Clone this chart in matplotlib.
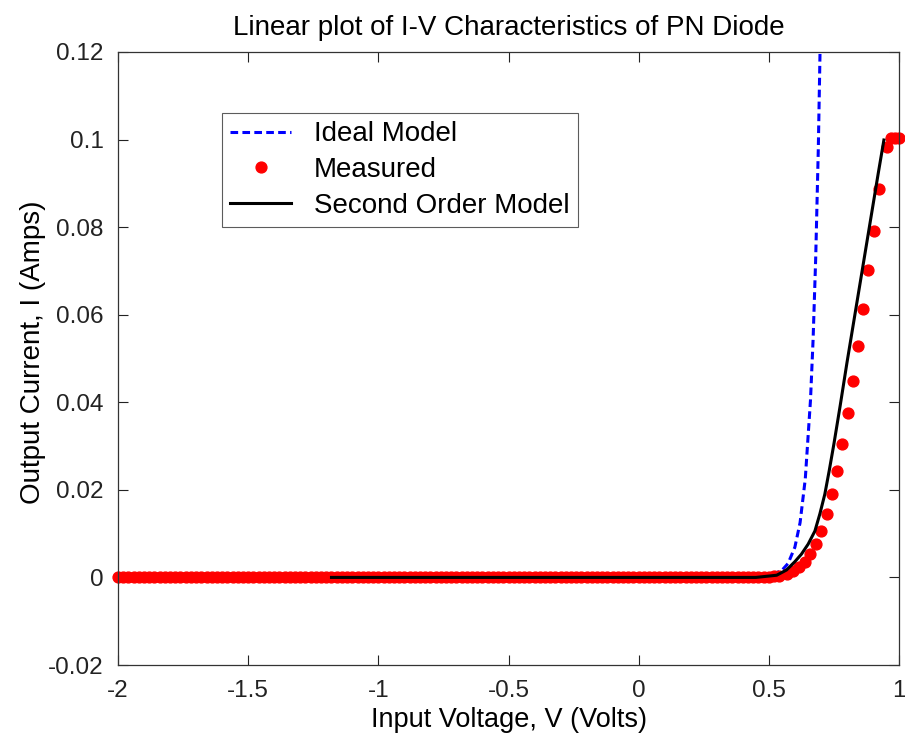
import matplotlib
matplotlib.use("Agg")
import matplotlib.pyplot as plt

plt.rcParams['font.family'] = ['Liberation Sans', 'DejaVu Sans']

# ---------------- data ----------------
measured_v = [
    -2.00, -1.98, -1.96, -1.94, -1.92, -1.90, -1.88, -1.86, -1.84, -1.82,
    -1.80, -1.78, -1.76, -1.74, -1.72, -1.70, -1.68, -1.66, -1.64, -1.62,
    -1.60, -1.58, -1.56, -1.54, -1.52, -1.50, -1.48, -1.46, -1.44, -1.42,
    -1.40, -1.38, -1.36, -1.34, -1.32, -1.30, -1.28, -1.26, -1.24, -1.22,
    -1.20, -1.18, -1.16, -1.14, -1.12, -1.10, -1.08, -1.06, -1.04, -1.02,
    -1.00, -0.98, -0.96, -0.94, -0.92, -0.90, -0.88, -0.86, -0.84, -0.82,
    -0.80, -0.78, -0.76, -0.74, -0.72, -0.70, -0.68, -0.66, -0.64, -0.62,
    -0.60, -0.58, -0.56, -0.54, -0.52, -0.50, -0.48, -0.46, -0.44, -0.42,
    -0.40, -0.38, -0.36, -0.34, -0.32, -0.30, -0.28, -0.26, -0.24, -0.22,
    -0.20, -0.18, -0.16, -0.14, -0.12, -0.10, -0.08, -0.06, -0.04, -0.02,
    0.00, 0.02, 0.04, 0.06, 0.08, 0.10, 0.12, 0.14, 0.16, 0.18,
    0.20, 0.22, 0.24, 0.26, 0.28, 0.30, 0.32, 0.34, 0.36, 0.38,
    0.40, 0.42, 0.44, 0.46, 0.48, 0.50, 0.52, 0.54,
    0.568, 0.593, 0.616, 0.638, 0.660, 0.680, 0.702, 0.722, 0.741, 0.7625,
    0.782, 0.8025, 0.824, 0.841, 0.863, 0.880, 0.905, 0.924, 0.953, 0.968,
    0.984, 1.000,
]
measured_i = [
    0, 0, 0, 0, 0, 0, 0, 0, 0, 0,
    0, 0, 0, 0, 0, 0, 0, 0, 0, 0,
    0, 0, 0, 0, 0, 0, 0, 0, 0, 0,
    0, 0, 0, 0, 0, 0, 0, 0, 0, 0,
    0, 0, 0, 0, 0, 0, 0, 0, 0, 0,
    0, 0, 0, 0, 0, 0, 0, 0, 0, 0,
    0, 0, 0, 0, 0, 0, 0, 0, 0, 0,
    0, 0, 0, 0, 0, 0, 0, 0, 0, 0,
    0, 0, 0, 0, 0, 0, 0, 0, 0, 0,
    0, 0, 0, 0, 0, 0, 0, 0, 0, 0,
    0, 0, 0, 0, 0, 0, 0, 0, 0, 0,
    0, 0, 0, 0, 0, 0, 0, 0, 0, 0,
    0.0, 0.0, 0.0001, 0.0001, 0.0001, 0.0002, 0.0003, 0.0004,
    0.0007, 0.0014, 0.0024, 0.0036, 0.0053, 0.0076, 0.0106, 0.0145, 0.0190, 0.0244,
    0.0305, 0.0375, 0.0449, 0.0529, 0.0613, 0.0701, 0.0792, 0.0887, 0.0984, 0.1003,
    0.1003, 0.1003,
]

ideal_v = [-1.18, 0.40, 0.45, 0.50, 0.55, 0.574, 0.60, 0.62, 0.64, 0.66,
           0.67, 0.68, 0.69, 0.70]
ideal_i = [0.0, 0.0, 0.00008, 0.00037, 0.0016, 0.0032, 0.0069, 0.0125,
           0.0225, 0.0405, 0.0543, 0.0729, 0.0978, 0.1312]

second_v = [-1.18, 0.45, 0.53, 0.568, 0.600, 0.625, 0.651, 0.677, 0.696,
            0.715, 0.732, 0.750, 0.774, 0.800, 0.830, 0.860, 0.890, 0.920,
            0.942]
second_i = [0.0, 0.0, 0.0005, 0.0017, 0.0036, 0.0053, 0.0076, 0.0106, 0.0145,
            0.0190, 0.0244, 0.0305, 0.0392, 0.0490, 0.0598, 0.0706, 0.0814,
            0.0922, 0.0999]

xticks = [-2, -1.5, -1, -0.5, 0, 0.5, 1]
xticklabels = ['-2', '-1.5', '-1', '-0.5', '0', '0.5', '1']
yticks = [-0.02, 0, 0.02, 0.04, 0.06, 0.08, 0.10, 0.12]
yticklabels = ['-0.02', '0', '0.02', '0.04', '0.06', '0.08', '0.1', '0.12']

# ---------------- figure ----------------
W, H = 905, 740
L, R, T, B = 118, 899, 52, 665
fig = plt.figure(figsize=(W/100, H/100), dpi=100)
ax = fig.add_axes([L/W, (H-B)/H, (R-L)/W, (B-T)/H])

ax.plot(ideal_v, ideal_i, color='#0000ff', ls=(0, (2.5, 1.4)), lw=2.2,
        label='Ideal Model')
ax.plot(measured_v, measured_i, ls='none', marker='o', ms=7.8,
        color='#ff0000', mec='#ff0000', label='Measured', clip_on=False)
ax.plot(second_v, second_i, color='black', lw=2.2, label='Second Order Model')

ax.set_xlim(-2, 1)
ax.set_ylim(-0.02, 0.12)
ax.set_xticks(xticks)
ax.set_xticklabels(xticklabels)
ax.set_yticks(yticks)
ax.set_yticklabels(yticklabels)
ax.tick_params(direction='in', top=True, right=True, length=7, width=0.8,
               labelsize=17.5, colors='#222222')
ax.tick_params(axis='x', pad=11)
ax.tick_params(axis='y', pad=10.5)
for s in ax.spines.values():
    s.set_linewidth(0.9)
    s.set_color('#333333')

ax.set_title('Linear plot of I-V Characteristics of PN Diode', fontsize=20,
             pad=12)
ax.set_xlabel('Input Voltage, V (Volts)', fontsize=19.5)
ax.xaxis.set_label_coords(0.5, -(707 - B) / (B - T))
ax.set_ylabel('Output Current, I (Amps)', fontsize=20)
ax.yaxis.set_label_coords((46 - L) / (R - L), (B - 352) / (B - T))

leg = ax.legend(loc='upper left',
                bbox_to_anchor=((222 - L) / (R - L), 1 - (113 - T) / (B - T)),
                fontsize=20, frameon=True, fancybox=False, edgecolor='#333333',
                borderpad=0.3, labelspacing=0.35, handlelength=2.2,
                handletextpad=0.8, borderaxespad=0)
leg.get_frame().set_linewidth(0.8)

fig.savefig('out.png', dpi=100)
